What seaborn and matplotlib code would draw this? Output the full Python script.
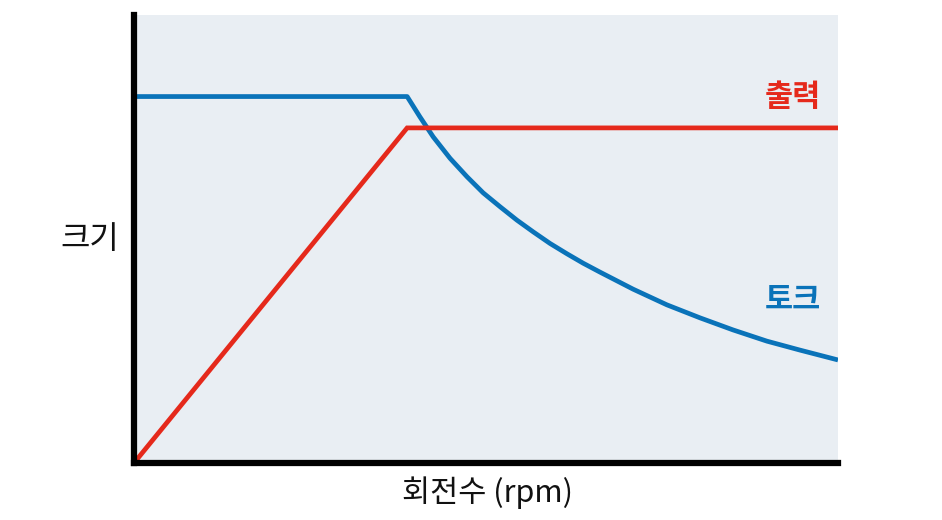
import matplotlib
matplotlib.use("Agg")
import matplotlib.pyplot as plt
import seaborn as sns
import pandas as pd

# Data (x and y on 0-100 scale)
power_x = [0.0, 38.8, 100.0]
power_y = [0.0, 74.8, 74.8]

torque_x = [0.0, 38.8, 40.6, 42.5, 44.9, 47.3, 49.6, 52.0, 54.4, 56.7, 59.1, 61.5,
            63.8, 66.2, 70.9, 75.7, 80.4, 85.1, 89.9, 94.6, 100.0]
torque_y = [81.8, 81.8, 77.3, 72.8, 68.0, 63.9, 60.3, 57.2, 54.2, 51.6, 49.0, 46.7,
            44.6, 42.6, 38.8, 35.3, 32.4, 29.7, 27.2, 25.2, 23.0]

label_power = "출력"
label_torque = "토크"
xlabel = "회전수 (rpm)"
ylabel = "크기"

RED = "#e5291b"
BLUE = "#0a73b9"
BG = "#e9eef3"

sns.set_theme(style="white")
plt.rcParams['font.family'] = ['Noto Sans CJK KR', 'DejaVu Sans']

fig = plt.figure(figsize=(9.42, 5.2), dpi=100)
ax = fig.add_axes([134/942, 1 - 463/520, (838 - 134)/942, (463 - 15)/520])
ax.set_facecolor(BG)

df_p = pd.DataFrame({"x": power_x, "y": power_y})
df_t = pd.DataFrame({"x": torque_x, "y": torque_y})
sns.lineplot(data=df_t, x="x", y="y", ax=ax, color=BLUE, linewidth=3.4, sort=False,
             solid_joinstyle="round", solid_capstyle="butt")
sns.lineplot(data=df_p, x="x", y="y", ax=ax, color=RED, linewidth=3.4, sort=False,
             solid_joinstyle="miter", solid_capstyle="butt")

ax.set_xlim(0, 100)
ax.set_ylim(0, 100)
ax.set_xticks([])
ax.set_yticks([])
ax.set_xlabel("")
ax.set_ylabel("")
for s in ["top", "right"]:
    ax.spines[s].set_visible(False)
for s in ["left", "bottom"]:
    ax.spines[s].set_visible(True)
    ax.spines[s].set_color("black")
    ax.spines[s].set_linewidth(4.5)
    ax.spines[s].set_zorder(5)

ax.text(93.6, 81.7, label_power, color=RED, fontsize=22, fontweight="bold",
        ha="center", va="center")
ax.text(93.6, 36.4, label_torque, color=BLUE, fontsize=22, fontweight="bold",
        ha="center", va="center")

fig.text(90/942, 1 - 239/520, ylabel, fontsize=23, fontweight="medium",
         ha="center", va="center", color="#111111")
fig.text(487/942, 1 - 493/520, xlabel, fontsize=22, fontweight="medium",
         ha="center", va="center", color="#111111")

fig.savefig("out.png", dpi=100, facecolor="white")
